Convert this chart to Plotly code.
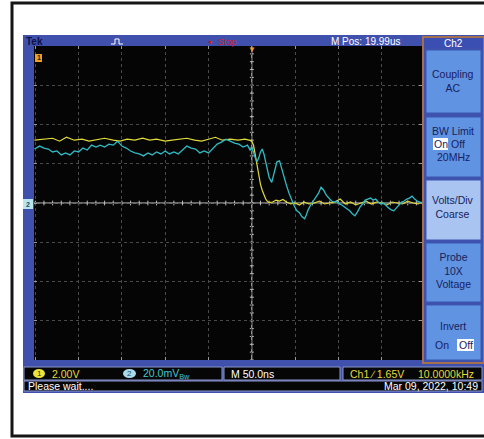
import plotly.graph_objects as go

W, H = 484, 439

# ---------------- data ----------------
# Ch1 (yellow), volts vs time (ns)
ch1_t = [-251, -240, -230, -222, -214, -205, -196, -188, -180, -170, -160, -152, -144, -135,
         -126, -118, -110, -100, -92, -84, -75, -66, -58, -50, -42, -34, -25, -16, -8, -3,
         0, 2, 4, 6, 8, 10, 12, 14, 16, 18, 20, 24, 28, 32, 36, 40, 45, 50, 55, 60, 66, 72,
         78, 84, 90, 96, 102, 108, 114, 120, 126, 132, 138, 144, 150, 156, 162, 168, 174,
         180, 186, 192, 196]
ch1_v = [3.2, 3.25, 3.3, 3.15, 3.35, 3.2, 3.25, 3.15, 3.2, 3.3, 3.2, 3.15, 3.25, 3.2,
         3.3, 3.2, 3.25, 3.15, 3.2, 3.25, 3.3, 3.2, 3.15, 3.25, 3.35, 3.2, 3.25, 3.2, 3.25, 3.2,
         3.15, 2.95, 2.45, 1.85, 1.35, 0.95, 0.65, 0.4, 0.2, 0.08, 0.02, 0.05, 0.15, 0.1, 0.18, 0.05,
         -0.05, 0.0, -0.1, 0.05, -0.05, 0.0, 0.1, -0.05, 0.0, 0.05, 0.2, -0.05, 0.05, -0.1, 0.0,
         0.1, -0.05, 0.05, 0.0, -0.1, 0.05, 0.0, -0.05, 0.1, 0.0, -0.05, 0.05]

# Ch2 (cyan), millivolts vs time (ns)
ch2_t = [-251, -245, -240, -235, -230, -225, -220, -215, -210, -205, -200, -195, -190, -185,
         -180, -175, -170, -165, -160, -155, -150, -145, -140, -135, -130, -125, -120, -115,
         -110, -105, -100, -95, -90, -85, -80, -75, -70, -65, -60, -55, -50, -45, -40, -35,
         -30, -25, -20, -15, -10, -5, -2, 0, 2, 4, 6, 8, 10, 12, 14, 16, 18, 20, 23, 26, 29,
         32, 34, 37, 40, 43, 46, 49, 52, 55, 58, 61, 63, 65, 68, 71, 74, 77, 80, 83, 86, 89,
         92, 95, 98, 101, 104, 107, 110, 113, 116, 119, 122, 125, 128, 131, 134, 137, 140,
         143, 146, 149, 152, 155, 158, 161, 164, 167, 170, 173, 176, 179, 182, 185, 188, 191,
         194, 196]
ch2_v = [27.5, 29, 28, 27.5, 26, 26.5, 24.5, 25.5, 24.5, 26.5, 26, 28, 27, 29.5,
         28.5, 29.5, 28.5, 30, 29.5, 31.5, 29, 28, 26.5, 25.5, 25, 24, 25.5, 24.5,
         26, 25, 26.5, 25, 26, 25, 27, 29, 28, 27.5, 25.5, 26.5, 25.5, 27.5, 30, 31,
         32.5, 31.5, 30.5, 30, 28.5, 29.5, 27, 28, 26, 23, 21, 23, 26, 27.5, 25, 21, 17, 13, 10.5, 16, 21,
         21.5, 18, 13, 9, 5, 1.5, -1.5, -4, -5, -7, -8, -6, -3.5, -1, 1, 3, 5, 8, 6.5, 4, 2.5,
         1, 0.5, 1, -0.5, -1, -2, -3, -4, -5.5, -6.5, -4.5, -2, -0.5, 1.5, 2, 2.5, 1.5,
         2, 0.5, -0.5, 0, -1.5, -2.5, -3.5, -4, -2.5, -1, 0.5, 1, 2, 2.5, 3.5, 2, 1,
         0.5, 0]

header_texts = ["Tek", "M Pos: 19.99us", "Stop"]
status_ch1 = "2.00V"
status_ch2 = "20.0mV<sub>Bw</sub>"
status_time = "M 50.0ns"
status_trig = "Ch1 \u2215 1.65V"
status_freq = "10.0000kHz"
status_msg = "Please wait...."
status_date = "Mar 09, 2022, 10:49"

# ---------------- helpers ----------------
def X(p):
    return p / W

def Y(p):
    return 1 - p / H

FONT = "Liberation Sans Narrow, Arial Narrow, Liberation Sans, Arial, sans-serif"
BLUE = "#4050ad"
YEL = "#e3db3a"
CYA = "#2fbcc6"
NAVY = "#17225e"

fig = go.Figure()
fig.add_trace(go.Scatter(x=ch2_t, y=ch2_v, yaxis="y2", mode="lines",
                         line=dict(color=CYA, width=1.3), hoverinfo="skip"))
fig.add_trace(go.Scatter(x=ch1_t, y=ch1_v, mode="lines",
                         line=dict(color=YEL, width=1.2), hoverinfo="skip"))

shapes = []
ann = []

def rect(x0, y0, x1, y1, fill, line=None, lw=0, layer="below"):
    shapes.append(dict(type="rect", xref="paper", yref="paper", x0=X(x0), x1=X(x1),
                       y0=Y(y1), y1=Y(y0), fillcolor=fill,
                       line=dict(color=line or fill, width=lw), layer=layer))

def text(x, y, s, color="white", size=10, xa="left", bold=False, ya="middle"):
    if bold:
        s = "<b>" + s + "</b>"
    ann.append(dict(xref="paper", yref="paper", x=X(x), y=Y(y), text=s, showarrow=False,
                    xanchor=xa, yanchor=ya, font=dict(color=color, size=size, family=FONT)))

# outer frame
rect(12, 3, 492, 436, "white", "#151515", 3)
# blue screen
rect(23, 35, 486, 393, BLUE)

# plot area domain
x0p, x1p, y0p, y1p = 34, 422, 46, 360
rect(x0p, y0p, x1p, y1p, "#050505")

# center lines + minor ticks (graticule)
shapes.append(dict(type="line", xref="x", yref="paper", x0=0, x1=0, y0=Y(y1p), y1=Y(y0p),
                   line=dict(color="#cfcfcf", width=1), layer="below"))
shapes.append(dict(type="line", xref="paper", yref="y", x0=X(x0p), x1=X(x1p), y0=0, y1=0,
                   line=dict(color="#cfcfcf", width=1), layer="below"))
t = -250
while t <= 196:
    shapes.append(dict(type="line", xref="x", yref="y", x0=t, x1=t, y0=-0.12, y1=0.12,
                       line=dict(color="#bdbdbd", width=1), layer="below"))
    t += 10
v = -8.0
while v <= 8.0:
    shapes.append(dict(type="line", xref="x", yref="y", x0=-2.3, x1=2.3, y0=v, y1=v,
                       line=dict(color="#bdbdbd", width=1), layer="below"))
    v += 0.4

# header
text(24, 41, header_texts[0], "#0b1145", 10, bold=True)
shapes.append(dict(type="path", xref="paper", yref="paper",
                   path="M %f %f L %f %f L %f %f L %f %f L %f %f L %f %f" % (
                       X(111), Y(44), X(115), Y(44), X(115), Y(39), X(119), Y(39),
                       X(119), Y(44), X(123), Y(44)),
                   line=dict(color="white", width=1)))
text(210, 41, "\u25cf", "#e01020", 7, xa="center")
text(216, 42, header_texts[2], "#d0203a", 9)
text(329, 41, header_texts[1], "white", 10)

# trigger position marker
ann.append(dict(xref="x", yref="paper", x=0, y=Y(49), text="\u25bc", showarrow=False,
                font=dict(color="#f0a020", size=8, family=FONT), xanchor="center",
                yanchor="middle"))
# ch1 indicator (top-left)
rect(35, 54, 42, 62, "#f0a020", layer="above")
text(38.5, 58, "1", "#202020", 7, xa="center", bold=True)
# ch2 ground marker
rect(23, 199, 33, 209, "#b8e6ee", layer="above")
text(28, 204, "2", "#205060", 7, xa="center", bold=True)

# side panel
rect(423, 37, 484, 363, BLUE, "#c47a30", 1.5, layer="above")
rect(424, 38, 483, 48, "#3b4fb2", layer="above")
text(453, 43, "Ch2", "white", 10, xa="center")
btn_y = [(50, 113), (117, 177), (180, 240), (243, 302), (305, 360)]
for i, (a, b) in enumerate(btn_y):
    fill = "#a9c4f0" if i == 2 else "#6093e2"
    rect(426, a, 481, b, fill, "#3a58b0", 1, layer="above")
# button texts
text(453, 81, "Coupling<br>AC", NAVY, 10.5, xa="center")
text(453, 131, "BW Limit", NAVY, 10.5, xa="center")
rect(433, 138, 448, 150, "white", layer="above")
text(440.5, 144, "On", NAVY, 10.5, xa="center")
text(458, 144, "Off", NAVY, 10.5, xa="center")
text(453, 157, "20MHz", NAVY, 10.5, xa="center")
text(453, 207, "Volts/Div<br>Coarse", NAVY, 10.5, xa="center")
text(453, 270, "Probe<br>10X<br>Voltage", NAVY, 10.5, xa="center")
text(453, 326, "Invert", NAVY, 10.5, xa="center")
text(442, 345, "On", NAVY, 10.5, xa="center")
rect(457, 339, 474, 351, "white", layer="above")
text(465.5, 345, "Off", NAVY, 10.5, xa="center")

# status bar
for (a, b) in [(24, 222), (224, 340), (343, 482)]:
    rect(a, 367, b, 380, "#060606", "#8a96c8", 1, layer="above")
rect(24, 381, 482, 391, "#060606", "#8a96c8", 1, layer="above")
shapes.append(dict(type="circle", xref="paper", yref="paper", x0=X(33), x1=X(45), y0=Y(378),
                   y1=Y(369), fillcolor="#ece43a", line=dict(width=0)))
text(39, 373.5, "1", "#303010", 8, xa="center")
text(50, 373.5, status_ch1, YEL, 10.5)
shapes.append(dict(type="circle", xref="paper", yref="paper", x0=X(123), x1=X(136), y0=Y(378),
                   y1=Y(369), fillcolor="#a8dcea", line=dict(width=0)))
text(129.5, 373.5, "2", "#1c4c5c", 8, xa="center")
text(141, 373.5, status_ch2, "#44c8d0", 10.5)
text(229, 373.5, status_time, "white", 10.5)
text(348, 373.5, status_trig, YEL, 10.5)
text(476, 373.5, status_freq, YEL, 10.5, xa="right")
text(26, 386, status_msg, "white", 10.5)
text(480, 386, status_date, "white", 10.5, xa="right")

fig.update_layout(
    width=W, height=H, margin=dict(l=0, r=0, t=0, b=0),
    paper_bgcolor="white", plot_bgcolor="#050505", showlegend=False,
    shapes=shapes, annotations=ann,
    xaxis=dict(domain=[X(x0p), X(x1p)], range=[-251.5, 196.5], showticklabels=False,
               tick0=0, dtick=50, showgrid=True, gridcolor="#4a4a4a", griddash="dot",
               gridwidth=1, zeroline=False, ticks="inside", ticklen=3, tickcolor="#9a9a9a",
               mirror="ticks", showline=False, fixedrange=True),
    yaxis=dict(domain=[Y(y1p), Y(y0p)], range=[-8, 8], showticklabels=False,
               tick0=0, dtick=2, showgrid=True, gridcolor="#4a4a4a", griddash="dot",
               gridwidth=1, zeroline=False, ticks="inside", ticklen=3, tickcolor="#9a9a9a",
               mirror="ticks", showline=False, fixedrange=True),
    yaxis2=dict(overlaying="y", range=[-80, 80], visible=False, fixedrange=True),
)

fig.write_html("out.html", config={"displayModeBar": False, "staticPlot": True},
               post_script="document.body.style.margin='0px';document.body.style.overflow='hidden';")
